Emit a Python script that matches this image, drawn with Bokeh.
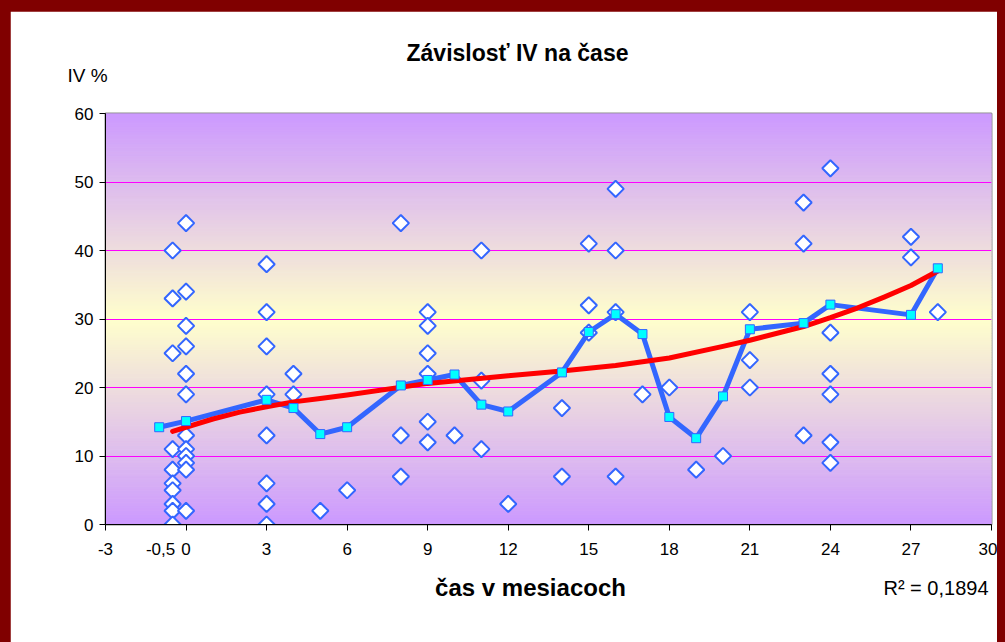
import numpy as np
from bokeh.plotting import figure
from bokeh.models import Range1d, FixedTicker, Label
from bokeh.embed import file_html
from bokeh.resources import INLINE

# ---------------- data ----------------
# individual measurements (diamonds), grouped by month
pts_m05 = [40, 33, 25, 11, 8, 6, 5, 3, 2, 0]
pts_0 = [44, 34, 29, 26, 22, 19, 13, 11, 10, 9, 8, 2]
pts_3 = [38, 31, 26, 19, 13, 6, 3, 0]
pts_4 = [22, 19]
pts_5 = [2]
pts_6 = [5]
pts_8 = [44, 13, 7]
pts_9 = [31, 29, 25, 22, 15, 12]
pts_10 = [13]
pts_11 = [40, 21, 11]
pts_12 = [3]
pts_14 = [17, 7]
pts_15 = [41, 32, 28]
pts_16 = [49, 40, 31, 7]
pts_17 = [19]
pts_18 = [20]
pts_19 = [8]
pts_20 = [10]
pts_21 = [31, 24, 20]
pts_23 = [47, 41, 13]
pts_24 = [52, 28, 22, 19, 12, 9]
pts_27 = [42, 39]
pts_28 = [31]

groups = [(-0.5, pts_m05), (0, pts_0), (3, pts_3), (4, pts_4), (5, pts_5), (6, pts_6),
          (8, pts_8), (9, pts_9), (10, pts_10), (11, pts_11), (12, pts_12), (14, pts_14),
          (15, pts_15), (16, pts_16), (17, pts_17), (18, pts_18), (19, pts_19), (20, pts_20),
          (21, pts_21), (23, pts_23), (24, pts_24), (27, pts_27), (28, pts_28)]

# mean line (cyan squares)
mean_x = [-1, 0, 3, 4, 5, 6, 8, 9, 10, 11, 12, 14, 15, 16, 17, 18, 19, 20, 21, 23, 24, 27, 28]
mean_y = [14.2, 15.1, 18.2, 17.0, 13.2, 14.2, 20.3, 21.1, 21.9, 17.5, 16.5, 22.2, 28.1,
          30.7, 27.8, 15.7, 12.6, 18.7, 28.5, 29.4, 32.1, 30.6, 37.4]

# trend line (red)
trend_x = [-0.5, 1, 2, 3, 4, 5, 6, 9, 12, 14, 16, 18, 20, 21, 23, 24, 25, 26, 27, 28]
trend_y = [13.6, 15.4, 16.4, 17.2, 17.9, 18.4, 18.9, 20.6, 21.7, 22.4, 23.2, 24.3, 26.0,
           26.9, 28.9, 30.2, 31.6, 33.2, 34.9, 37.0]

x_ticks = [-3, 0, 3, 6, 9, 12, 15, 18, 21, 24, 27, 30]
x_label_ticks = [-3, -0.95, 0, 3, 6, 9, 12, 15, 18, 21, 24, 27, 30]
x_label_overrides = {-3: "-3", -0.95: "-0,5"}
y_ticks = [0, 10, 20, 30, 40, 50, 60]
y_grid = [10, 20, 30, 40, 50]

title_text = "Závislosť IV na čase"
ylabel_text = "IV %"
xlabel_text = "čas v mesiacoch"
r2_text = "R² = 0,1894"

# ---------------- figure ----------------
FONT = "Liberation Sans"
X0, X1, Y0, Y1 = -3, 30, 0, 60
p = figure(width=987, height=631, output_backend="svg", toolbar_location=None,
           x_range=Range1d(X0, X1), y_range=Range1d(Y0, Y1),
           min_border_left=95, min_border_right=6, min_border_top=102, min_border_bottom=118)
p.background_fill_color = "white"
p.border_fill_color = "white"
p.outline_line_color = "#8c8c8c"
p.outline_line_width = 2

# gradient background (purple - yellow - purple) as thin horizontal bands
NB = 240
edges = np.linspace(Y0, Y1, NB + 1)
mid = (edges[:-1] + edges[1:]) / 2
tt = 1 - np.abs((mid - Y0) / (Y1 - Y0) - 0.5) / 0.5
c_edge = np.array([204, 153, 255])
c_mid = np.array([255, 255, 204])
band_cols = []
for v in tt:
    c = (c_edge * (1 - v) + c_mid * v).round().astype(int)
    band_cols.append("#%02x%02x%02x" % tuple(c))
bands = p.quad(left=X0, right=X1, bottom=edges[:-1], top=edges[1:],
               fill_color=band_cols, line_color=band_cols, line_width=1)
bands.level = "image"

p.xgrid.visible = False
p.ygrid.ticker = FixedTicker(ticks=y_grid)
p.ygrid.grid_line_color = "#FF00FF"
p.ygrid.grid_line_width = 1

for ax in (p.xaxis, p.yaxis):
    ax.axis_line_color = "black"
    ax.axis_line_width = 1
    ax.major_tick_in = 0
    ax.major_tick_out = 6
    ax.minor_tick_in = 0
    ax.major_label_text_font = FONT
    ax.major_label_text_font_size = "17px"
    ax.major_label_text_color = "black"

p.yaxis.ticker = FixedTicker(ticks=y_ticks)
p.yaxis.major_tick_line_color = "black"
p.yaxis.minor_tick_line_color = None
p.yaxis.major_label_standoff = 6

# x axis: labels on major ticks (incl. "-0,5"), tick marks drawn as minor ticks
p.xaxis.ticker = FixedTicker(ticks=x_label_ticks, minor_ticks=x_ticks)
p.xaxis.major_tick_line_color = None
p.xaxis.minor_tick_line_color = "black"
p.xaxis.minor_tick_out = 6
p.xaxis.major_label_overrides = x_label_overrides
p.xaxis.major_label_standoff = 12

# scatter diamonds
sx, sy = [], []
for gx, vals in groups:
    for v in vals:
        sx.append(gx)
        sy.append(v)
p.scatter(sx, sy, marker="square", angle=np.pi / 4, size=11.5,
          fill_color="white", line_color="#3366FF", line_width=2)

# mean line
p.line(mean_x, mean_y, line_color="#3366FF", line_width=5, line_join="round")
# trend line
p.line(trend_x, trend_y, line_color="#FF0000", line_width=5, line_join="round", line_cap="round")
# mean markers
p.scatter(mean_x, mean_y, marker="square", size=9, fill_color="#00FFFF",
          line_color="#3366FF", line_width=1)

# texts placed in side panels (screen units relative to their panel)
def lab(x, y, text, size, bold=False, align="center"):
    return Label(x=x, y=y, x_units="screen", y_units="screen", text=text,
                 text_align=align, text_baseline="middle", text_font=FONT,
                 text_font_size=size, text_font_style="bold" if bold else "normal",
                 text_color="black")

p.add_layout(lab(-38, 38, ylabel_text, "19px", align="left"), "above")
p.add_layout(lab(412, 40, title_text, "23px", bold=True), "above")
p.add_layout(lab(425, -3, xlabel_text, "24px", bold=True), "below")
p.add_layout(lab(883, 19, r2_text, "20px", align="right"), "below")

html = file_html(p, INLINE, title="Závislosť IV na čase")
html = html.replace("</head>",
                    "<style>html,body{background:#800000;margin:0;}"
                    "body{padding:11px 0 0 10px;}</style></head>", 1)
open("out.html", "w").write(html)
